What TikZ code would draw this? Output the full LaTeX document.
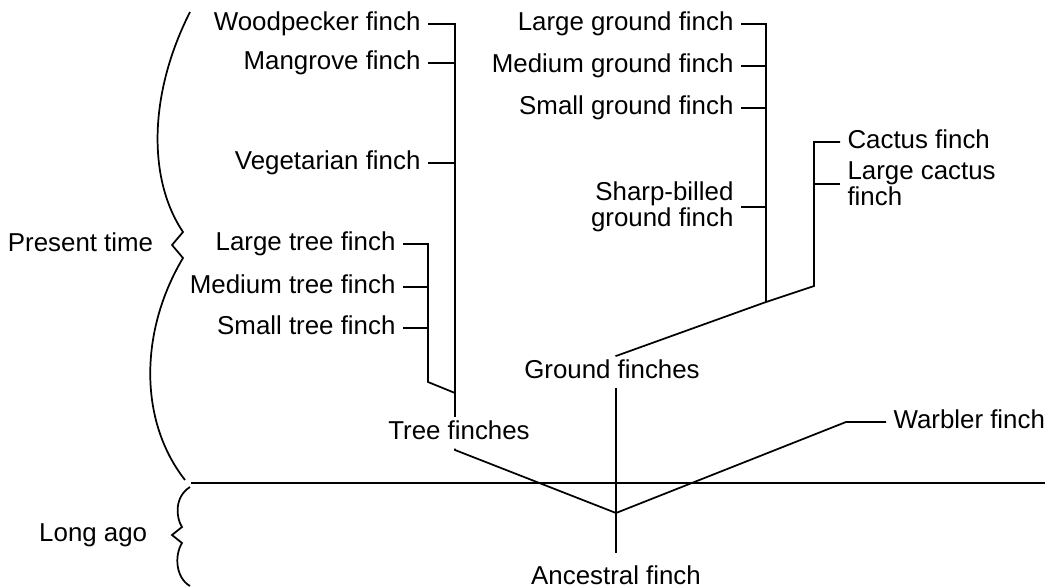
\documentclass[tikz,border=0pt]{standalone}
\usepackage{fontspec}
\setmainfont{Liberation Sans}
\usetikzlibrary{positioning}

\begin{document}
\begin{tikzpicture}[x=0.75pt,y=-0.75pt,line width=1.3pt,lbl/.style={font=\fontsize{19.4}{19.4}\selectfont,inner xsep=5pt,inner ysep=1pt},finch/.style={lbl,text height=14pt,text depth=4pt},clade/.style={finch,inner ysep=2pt}]
\useasboundingbox (0,0) rectangle (1049,588);
\coordinate (tTop) at (455,24);
\coordinate (tBase) at (455,450);
\coordinate (tsTop) at (428,244);
\coordinate (tsBase) at (428,382);
\coordinate (tsJoin) at (455,393);
\coordinate (gTop) at (766,24);
\coordinate (gJoin) at (766,302);
\coordinate (cTop) at (814,142);
\coordinate (cBase) at (814,286);
\coordinate (gBase) at (616,356);
\coordinate (root) at (616,513);
\coordinate (aBot) at (616,553);
\coordinate (wJoin) at (846,422);
\coordinate (nowL) at (191,483);
\coordinate (nowR) at (1045,483);
\coordinate (nowTip) at (172,245);
\coordinate (agoTip) at (172,535);
\node[finch,anchor=east] (woodpecker) at (428,24) {Woodpecker finch};
\node[finch,anchor=east] (mangrove) at (428,63) {Mangrove finch};
\node[finch,anchor=east] (vegetarian) at (428,163) {Vegetarian finch};
\node[finch,anchor=east] (largetree) at (403,244) {Large tree finch};
\node[finch,anchor=east] (mediumtree) at (403,287) {Medium tree finch};
\node[finch,anchor=east] (smalltree) at (403,328) {Small tree finch};
\node[finch,anchor=east] (largeground) at (741,24) {Large ground finch};
\node[finch,anchor=east] (mediumground) at (741,66) {Medium ground finch};
\node[finch,anchor=east] (smallground) at (741,108) {Small ground finch};
\node[lbl,anchor=east,align=right] (sharpbilled) at (741,207) {Sharp-billed\\ground finch};
\node[finch,anchor=west] (cactus) at (840,142) {Cactus finch};
\node[lbl,anchor=west,align=left] (largecactus) at (840,184) {Large cactus\\finch};
\node[finch,anchor=west] (warbler) at (886,422) {Warbler finch};
\node[clade] (treefinches) at (459,433) {Tree finches};
\node[clade] (groundfinches) at (612,372) {Ground finches};
\node[finch,below=8pt of aBot] (ancestral) {Ancestral finch};
\node[finch,left=8.5pt of nowTip] (present) {Present time};
\node[finch,left=13pt of agoTip] (longago) {Long ago};
\draw (woodpecker.east) -- (tTop) -- (treefinches.north -| tTop);
\draw (mangrove.east) -- (mangrove.east -| tTop);
\draw (vegetarian.east) -- (vegetarian.east -| tTop);
\draw (largetree.east) -- (tsTop) -- (tsBase) -- (tsJoin);
\draw (mediumtree.east) -- (mediumtree.east -| tsTop);
\draw (smalltree.east) -- (smalltree.east -| tsTop);
\draw (treefinches.south -| tTop) -- (tBase) -- (root) -- (wJoin) -- (warbler.west);
\draw (largeground.east) -- (gTop) -- (gJoin);
\draw (mediumground.east) -- (mediumground.east -| gTop);
\draw (smallground.east) -- (smallground.east -| gTop);
\draw (sharpbilled.east) -- (sharpbilled.east -| gTop);
\draw (cactus.west) -- (cTop) -- (cBase) -- (gJoin) -- (gBase) -- (groundfinches.north -| gBase);
\draw (largecactus.west) -- (largecactus.west -| cTop);
\draw (groundfinches.south -| gBase) -- (aBot);
\draw (nowL) -- (nowR);
\draw (190,12) .. controls (148,95) and (148,180) .. (183,232) -- (nowTip) -- (183,258) .. controls (140,330) and (138,420) .. (185,480);
\draw (190,487) .. controls (174,497) and (176,518) .. (182,527) -- (agoTip) -- (182,543) .. controls (174,556) and (176,578) .. (190,586);
\end{tikzpicture}
\end{document}
